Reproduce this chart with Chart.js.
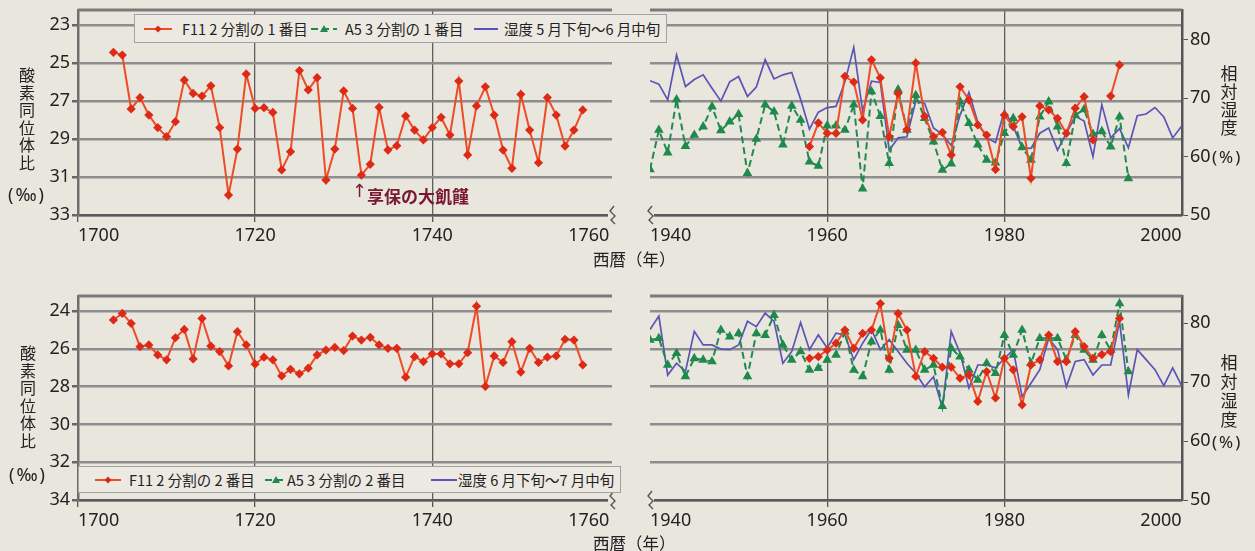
<!DOCTYPE html>
<html lang="ja">
<head>
<meta charset="utf-8">
<script src="https://cdn.jsdelivr.net/npm/chart.js@4.4.1/dist/chart.umd.min.js"></script>
<style>
  html, body { margin: 0; padding: 0; }
  body { width: 1255px; height: 551px; position: relative; overflow: hidden; background: #e9e6de;
         font-family: "Noto Sans CJK JP", "Noto Sans", sans-serif; color: #222; }
  canvas { position: absolute; }
  .txt { position: absolute; white-space: nowrap; }
  .unit { position: absolute; white-space: nowrap; font-family: "Noto Sans", sans-serif; }
  .vt { position: absolute; width: 22px; text-align: center; font-size: 16px; line-height: 17.5px; }
  .legend { position: absolute; box-sizing: border-box; border: 1.5px solid #a2a2a2; background: #ece9e2; z-index: 5; }
  .legend .sym { position: absolute; top: 50%; transform: translateY(-50%); }
  .legend .lt { position: absolute; top: 50%; transform: translateY(-52%); font-size: 14.5px; white-space: nowrap; }
  .famine { position: absolute; color: #7a1832; font-weight: bold; font-size: 17px; white-space: nowrap; }
</style>
</head>
<body>
<canvas id="cTopEdo" width="640" height="270" style="left:0;top:0"></canvas>
<canvas id="cTopNow" width="615" height="270" style="left:640px;top:0"></canvas>
<canvas id="cBotEdo" width="640" height="271" style="left:0;top:280px"></canvas>
<canvas id="cBotNow" width="615" height="271" style="left:640px;top:280px"></canvas>

<!-- axis titles -->
<div class="vt" style="left:16px;top:66px">酸<br>素<br>同<br>位<br>体<br>比</div>
<div class="unit" style="left:8px;top:182px;font-size:18px;letter-spacing:2px">(‰)</div>
<div class="vt" style="left:17px;top:344px">酸<br>素<br>同<br>位<br>体<br>比</div>
<div class="unit" style="left:9px;top:462px;font-size:18px;letter-spacing:2px">(‰)</div>

<div class="vt" style="left:1218px;top:64px;line-height:18px;font-size:17px">相<br>対<br>湿<br>度</div>
<div class="unit" style="left:1212px;top:145px;font-size:17px;letter-spacing:2px">(%)</div>
<div class="vt" style="left:1218px;top:352px;line-height:19px;font-size:17px">相<br>対<br>湿<br>度</div>
<div class="unit" style="left:1212px;top:430px;font-size:17px;letter-spacing:2px">(%)</div>

<div class="txt" style="left:593px;top:247px;font-size:16.5px">西暦（年）</div>
<div class="txt" style="left:593px;top:531px;font-size:16.5px">西暦（年）</div>

<div class="famine" style="left:352px;top:180px;font-family:'DejaVu Sans';font-weight:normal;font-size:18px">↑</div>
<div class="famine" style="left:367px;top:183px">享保の大飢饉</div>

<!-- legends -->
<div class="legend" style="left:134px;top:14px;width:533px;height:29px">
  <svg class="sym" style="left:9px" width="28" height="10"><line x1="0" y1="5" x2="28" y2="5" stroke="#ef4b25" stroke-width="2"/><polygon points="14,1.5 17.5,5 14,8.5 10.5,5" fill="#dd2a16"/></svg>
  <span class="lt" style="left:47px">F11 2 分割の 1 番目</span>
  <svg class="sym" style="left:176px" width="26" height="10"><line x1="0" y1="5" x2="26" y2="5" stroke="#1f8a4c" stroke-width="2" stroke-dasharray="7 4"/><polygon points="13,1 17,8 9,8" fill="#1f8a4c"/></svg>
  <span class="lt" style="left:210px">A5 3 分割の 1 番目</span>
  <svg class="sym" style="left:339px" width="24" height="10"><line x1="0" y1="5" x2="24" y2="5" stroke="#5a55b5" stroke-width="2"/></svg>
  <span class="lt" style="left:369px">湿度 5 月下旬～6 月中旬</span>
</div>
<div class="legend" style="left:78px;top:466px;width:543px;height:27px">
  <svg class="sym" style="left:16px" width="26" height="10"><line x1="0" y1="5" x2="26" y2="5" stroke="#ef4b25" stroke-width="2"/><polygon points="13,1.5 16.5,5 13,8.5 9.5,5" fill="#dd2a16"/></svg>
  <span class="lt" style="left:50px">F11 2 分割の 2 番目</span>
  <svg class="sym" style="left:186px" width="22" height="10"><line x1="0" y1="5" x2="22" y2="5" stroke="#1f8a4c" stroke-width="2" stroke-dasharray="7 4"/><polygon points="11,1 15,8 7,8" fill="#1f8a4c"/></svg>
  <span class="lt" style="left:208px">A5 3 分割の 2 番目</span>
  <svg class="sym" style="left:352px" width="26" height="10"><line x1="0" y1="5" x2="26" y2="5" stroke="#5a55b5" stroke-width="2"/></svg>
  <span class="lt" style="left:379px">湿度 6 月下旬～7 月中旬</span>
</div>

<script>
// ---- data ----
const yearsEdo = [1704, 1705, 1706, 1707, 1708, 1709, 1710, 1711, 1712, 1713,
    1714, 1715, 1716, 1717, 1718, 1719, 1720, 1721, 1722, 1723,
    1724, 1725, 1726, 1727, 1728, 1729, 1730, 1731, 1732, 1733,
    1734, 1735, 1736, 1737, 1738, 1739, 1740, 1741, 1742, 1743,
    1744, 1745, 1746, 1747, 1748, 1749, 1750, 1751, 1752, 1753,
    1754, 1755, 1756, 1757];

const yearsModern = [1940, 1941, 1942, 1943, 1944, 1945, 1946, 1947, 1948, 1949,
    1950, 1951, 1952, 1953, 1954, 1955, 1956, 1957, 1958, 1959,
    1960, 1961, 1962, 1963, 1964, 1965, 1966, 1967, 1968, 1969,
    1970, 1971, 1972, 1973, 1974, 1975, 1976, 1977, 1978, 1979,
    1980, 1981, 1982, 1983, 1984, 1985, 1986, 1987, 1988, 1989,
    1990, 1991, 1992, 1993, 1994, 1995, 1996, 1997, 1998, 1999, 2000];

// F11 2分割の1番目 (1704-1757)
const f11Part1Edo = [24.44, 24.58, 27.42, 26.82, 27.74, 28.4, 28.88, 28.09, 25.9, 26.6,
    26.74, 26.2, 28.4, 31.95, 29.53, 25.58, 27.39, 27.35, 27.6, 30.63,
    29.67, 25.4, 26.42, 25.77, 31.16, 29.53, 26.47, 27.39, 30.9, 30.33,
    27.33, 29.58, 29.35, 27.79, 28.53, 29.05, 28.4, 27.86, 28.79, 25.95,
    29.84, 27.26, 26.25, 27.74, 29.58, 30.54, 26.65, 28.53, 30.25, 26.82,
    27.74, 29.37, 28.53, 27.47];

// F11 2分割の2番目 (1704-1757)
const f11Part2Edo = [24.47, 24.12, 24.65, 25.88, 25.79, 26.32, 26.58, 25.41, 24.97, 26.53,
    24.39, 25.85, 26.14, 26.9, 25.09, 25.79, 26.81, 26.44, 26.58, 27.43,
    27.08, 27.32, 27.02, 26.32, 26.06, 25.92, 26.09, 25.32, 25.53, 25.39,
    25.79, 25.97, 25.97, 27.5, 26.41, 26.67, 26.27, 26.27, 26.79, 26.79,
    26.2, 23.74, 27.99, 26.37, 26.72, 25.62, 27.23, 25.97, 26.72, 26.44,
    26.37, 25.49, 25.53, 26.85];

// modern period, 1940-2000
const f11Part1Modern = [null, null, null, null, null, null, null, null, null, null,
    null, null, null, null, null, null, null, null, 29.4, 28.15,
    28.7, 28.7, 25.7, 26.0, 28.0, 24.83, 25.78, 28.88, 26.6, 28.5,
    25.0, 27.8, 28.88, 28.65, 29.84, 26.25, 26.95, 28.26, 28.79, 30.6,
    27.74, 28.35, 27.83, 31.07, 27.26, 27.47, 27.91, 28.7, 27.38, 26.77,
    29.05, null, 26.74, 25.1, null, null, null, null, null, null, null];

const a5Part1Modern = [30.6, 28.53, 29.72, 26.92, 29.38, 28.79, 28.35, 27.3, 28.55, 28.09,
    27.7, 30.8, 29.0, 27.2, 27.56, 29.3, 27.26, 28.0, 30.2, 30.42,
    28.3, 28.3, 28.53, 27.2, 31.62, 26.5, 27.8, 30.28, 26.4, 28.53,
    26.7, 27.91, 29.14, 30.63, 30.3, 27.03, 28.17, 29.3, 30.1, 30.25,
    28.7, 27.91, 29.44, 30.1, 27.83, 27.03, 28.35, 30.28, 27.74, 27.44,
    28.74, 28.6, 29.4, 27.83, 31.07, null, null, null, null, null, null];

const humidityMayJun = [73.0, 72.4, 69.7, 77.4, 72.0, 73.2, 74.0, 71.7, 69.5, 72.8,
    73.7, 70.3, 71.9, 76.6, 73.3, 74.0, 74.4, 69.8, 64.7, 67.6,
    68.4, 68.6, 72.8, 78.7, 67.8, 72.9, 72.7, 61.1, 63.2, 63.4,
    69.5, 69.1, 64.9, 63.8, 61.9, 67.1, 71.0, 65.9, 63.2, 62.4,
    67.9, 65.2, 61.5, 61.4, 64.0, 64.9, 61.1, 64.0, 66.9, 66.1,
    60.0, 68.9, 63.2, 64.8, 61.5, 67.0, 67.3, 68.4, 66.8, 63.2, 65.2];

const f11Part2Modern = [null, null, null, null, null, null, null, null, null, null,
    null, null, null, null, null, null, null, null, 26.5, 26.41,
    26.06, 25.7, 25.0, 25.97, 25.18, 25.0, 23.6, 26.5, 24.12, 25.0,
    27.46, 26.14, 26.5, 26.97, 26.97, 27.55, 27.37, 28.78, 27.2, 28.6,
    26.5, 27.11, 28.96, 26.85, 26.58, 25.27, 26.67, 26.67, 25.09, 25.88,
    26.5, 26.3, 26.14, 24.39, null, null, null, null, null, null, null];

const a5Part2Modern = [25.53, 25.44, 26.85, 26.23, 27.46, 26.5, 26.58, 26.67, 25.0, 25.35,
    25.18, 27.46, 25.18, 25.27, 24.21, 25.79, 26.58, 26.14, 27.11, 27.02,
    26.58, 26.32, 25.09, 27.11, 27.46, 25.62, 25.0, 27.11, 24.74, 26.06,
    26.06, 27.11, 26.85, 29.04, 25.97, 26.41, 27.11, 27.64, 26.76, 27.29,
    25.27, 26.32, 25.0, 26.76, 25.44, 25.44, 25.44, 26.58, 25.27, 26.06,
    26.58, 25.27, 26.06, 23.6, 27.2, null, null, null, null, null, null];

const humidityJunJul = [78.9, 81.2, 71.2, 73.2, 71.8, 78.6, 76.3, 76.3, 75.6, 75.5,
    76.3, 80.3, 79.4, 81.7, 80.3, 73.2, 75.2, 80.1, 75.5, 78.0,
    75.8, 78.3, 78.0, 73.8, 76.6, 78.9, 75.5, 77.2, 75.2, 73.2,
    71.5, 69.2, 70.9, 65.6, 78.6, 74.9, 69.0, 72.9, 72.9, 72.4,
    74.0, 75.5, 67.5, 69.8, 72.1, 77.4, 75.5, 69.2, 73.5, 73.8,
    71.2, 72.9, 72.9, 80.3, 67.8, 75.5, 73.8, 72.1, 69.4, 72.4, 69.4];

const isoTicksTop = [23, 25, 27, 29, 31, 33];
const isoTicksBottom = [24, 26, 28, 30, 32, 34];
const humTicks = [50, 60, 70, 80];
const edoTicks = [1700, 1720, 1740, 1760];
const modernTicks = [1940, 1960, 1980, 2000];

// ---- styles ----
const tickFont = { family: "'Noto Sans', sans-serif", size: 18 };
const RED = '#ef4b25', RED_PT = '#dd2a16', GREEN = '#1f8a4c', BLUE = '#5a55b5';

function redSet(values) {
    return { data: values, yAxisID: 'iso', borderColor: RED, borderWidth: 2,
        pointStyle: 'rectRot', pointRadius: 3.2, pointBackgroundColor: RED_PT, pointBorderColor: RED_PT,
        tension: 0, spanGaps: false };
}
function greenSet(values) {
    return { data: values, yAxisID: 'iso', borderColor: GREEN, borderWidth: 2, borderDash: [7, 4],
        pointStyle: 'triangle', pointRadius: 3.6, pointBackgroundColor: GREEN, pointBorderColor: GREEN,
        tension: 0, spanGaps: false };
}
function blueSet(values) {
    return { data: values, yAxisID: 'hum', borderColor: BLUE, borderWidth: 1.7,
        pointRadius: 0, tension: 0, spanGaps: false };
}

// top border line + axis break mark
const framePlugin = {
    id: 'frame',
    afterDraw(chart, args, opts) {
        const ctx = chart.ctx, a = chart.chartArea;
        ctx.save();
        ctx.strokeStyle = '#7b7b7b';
        ctx.lineWidth = 3;
        ctx.beginPath();
        ctx.moveTo(a.left, a.top);
        ctx.lineTo(a.right, a.top);
        ctx.stroke();
        const bx = opts.side === 'right' ? a.right : a.left;
        const by = a.bottom;
        ctx.fillStyle = '#e9e6de';
        ctx.fillRect(bx - 4, by - 9, 8, 18);
        ctx.strokeStyle = '#555';
        ctx.lineWidth = 1.4;
        ctx.beginPath();
        ctx.moveTo(bx + 2, by - 9);
        ctx.lineTo(bx - 2, by - 4);
        ctx.lineTo(bx + 3, by + 1);
        ctx.lineTo(bx - 1, by + 5);
        ctx.lineTo(bx + 3, by + 9);
        ctx.stroke();
        ctx.restore();
    }
};

function makePanel(canvasId, cfg) {
    const scales = {
        x: {
            type: 'linear', min: cfg.xMin, max: cfg.xMax,
            afterBuildTicks: s => { s.ticks = cfg.xTicks.map(v => ({ value: v })); },
            afterFit: s => { s.height = cfg.xHeight; s.paddingLeft = 0; s.paddingRight = 0; },
            ticks: { callback: v => String(v), font: tickFont, color: '#222', padding: 3,
                maxRotation: 0, autoSkip: false, align: 'inner' },
            grid: {
                color: c => (c.tick && cfg.xGrid.includes(c.tick.value)) ? '#5e5e5e' : 'rgba(0,0,0,0)',
                lineWidth: 1.3, drawTicks: true, tickLength: 7,
                tickColor: c => (c.tick && cfg.xTickMarks.includes(c.tick.value)) ? '#555' : 'rgba(0,0,0,0)'
            },
            border: { display: true, color: '#5a5a5a', width: 2.5 }
        },
        iso: {
            type: 'linear', position: 'left', reverse: true, min: cfg.isoMin, max: cfg.isoMax,
            afterBuildTicks: s => { s.ticks = cfg.isoTicks.map(v => ({ value: v })); },
            afterFit: s => { s.width = cfg.isoWidth; s.paddingTop = 0; s.paddingBottom = 0; },
            ticks: { display: cfg.isoLabels, font: tickFont, color: '#222', padding: 2 },
            grid: { color: '#8d8d8d', lineWidth: 2.5, drawTicks: cfg.isoLabels, tickLength: 6, tickColor: '#666' },
            border: { display: cfg.isoLabels, color: '#6e6e6e', width: 2.5 }
        }
    };
    if (cfg.humMax) {
        scales.hum = {
            type: 'linear', position: 'right', min: 50, max: cfg.humMax,
            afterBuildTicks: s => { s.ticks = humTicks.map(v => ({ value: v })); },
            afterFit: s => { s.width = 73; s.paddingTop = 0; s.paddingBottom = 0; },
            ticks: { font: tickFont, color: '#222', padding: 2 },
            grid: { drawOnChartArea: false, drawTicks: true, tickLength: 6, color: '#555', tickColor: '#555' },
            border: { display: true, color: '#555', width: 2.5 }
        };
    }
    new Chart(document.getElementById(canvasId), {
        type: 'line',
        data: { labels: cfg.labels, datasets: cfg.datasets },
        options: {
            responsive: false,
            animation: false,
            layout: { padding: cfg.padding },
            plugins: { legend: { display: false }, tooltip: { enabled: false }, frame: { side: cfg.breakSide } },
            scales: scales
        },
        plugins: [framePlugin]
    });
}

// top row: 5月下旬～6月中旬
makePanel('cTopEdo', {
    labels: yearsEdo, datasets: [redSet(f11Part1Edo)],
    xMin: 1700, xMax: 1760.3, xTicks: edoTicks, xGrid: [1720, 1740], xTickMarks: [1700, 1720, 1740],
    isoMin: 22.21, isoMax: 33, isoTicks: isoTicksTop, isoWidth: 78, isoLabels: true,
    xHeight: 55, padding: { top: 10, right: 28, left: 0, bottom: 0 }, breakSide: 'right'
});
makePanel('cTopNow', {
    labels: yearsModern,
    datasets: [redSet(f11Part1Modern), greenSet(a5Part1Modern), blueSet(humidityMayJun)],
    xMin: 1940, xMax: 2000.05, xTicks: modernTicks, xGrid: [1960, 1980], xTickMarks: [1960, 1980],
    isoMin: 22.21, isoMax: 33, isoTicks: isoTicksTop, isoWidth: 10, isoLabels: false, humMax: 85.1,
    xHeight: 55, padding: { top: 10, right: 0, left: 0, bottom: 0 }, breakSide: 'left'
});

// bottom row: 6月下旬～7月中旬
makePanel('cBotEdo', {
    labels: yearsEdo, datasets: [redSet(f11Part2Edo)],
    xMin: 1700, xMax: 1760.3, xTicks: edoTicks, xGrid: [1720, 1740], xTickMarks: [1700, 1720, 1740],
    isoMin: 23.2, isoMax: 34, isoTicks: isoTicksBottom, isoWidth: 78, isoLabels: true,
    xHeight: 51, padding: { top: 16, right: 28, left: 0, bottom: 0 }, breakSide: 'right'
});
makePanel('cBotNow', {
    labels: yearsModern,
    datasets: [redSet(f11Part2Modern), greenSet(a5Part2Modern), blueSet(humidityJunJul)],
    xMin: 1940, xMax: 2000.05, xTicks: modernTicks, xGrid: [1960, 1980], xTickMarks: [1960, 1980],
    isoMin: 23.2, isoMax: 34, isoTicks: isoTicksBottom, isoWidth: 10, isoLabels: false, humMax: 84.6,
    xHeight: 51, padding: { top: 16, right: 0, left: 0, bottom: 0 }, breakSide: 'left'
});
</script>
</body>
</html>
